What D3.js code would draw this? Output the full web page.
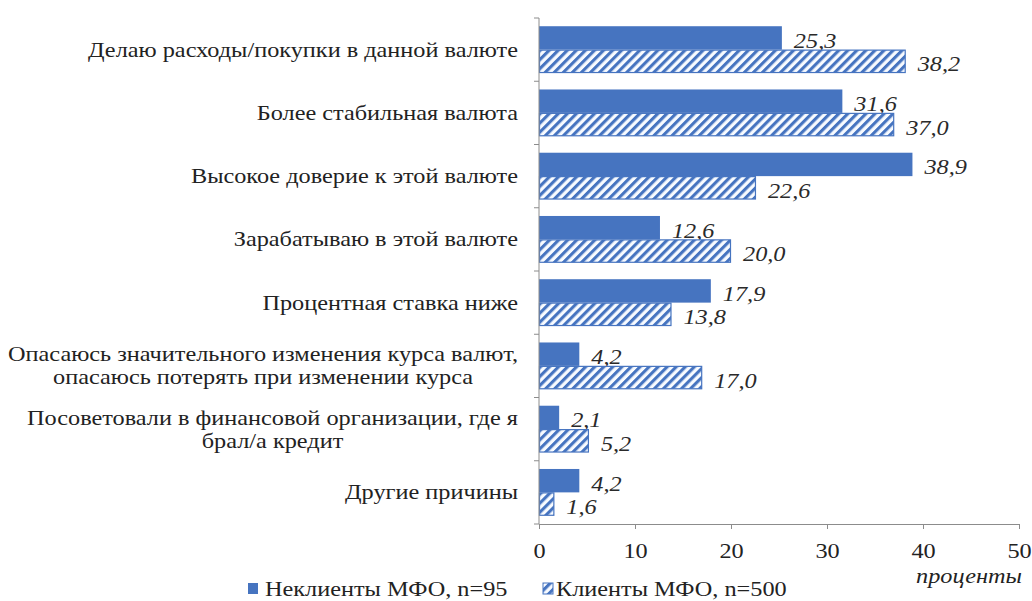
<!DOCTYPE html>
<html>
<head>
<meta charset="utf-8">
<script src="https://cdn.jsdelivr.net/npm/d3@7/dist/d3.min.js"></script>
<style>
  html, body { margin: 0; padding: 0; background: #fff; }
  svg { display: block; }
</style>
</head>
<body>
<svg id="chart" width="1032" height="601"></svg>
<script>
// Reasons for choosing the loan currency, % of respondents
const categories = [
  ["Делаю расходы/покупки в данной валюте"],
  ["Более стабильная валюта"],
  ["Высокое доверие к этой валюте"],
  ["Зарабатываю в этой валюте"],
  ["Процентная ставка ниже"],
  ["Опасаюсь значительного изменения курса валют,", "опасаюсь потерять при изменении курса"],
  ["Посоветовали в финансовой организации, где я", "брал/а кредит"],
  ["Другие причины"]
];
const nonClients = [25.3, 31.6, 38.9, 12.6, 17.9, 4.2, 2.1, 4.2];
const clients    = [38.2, 37.0, 22.6, 20.0, 13.8, 17.0, 5.2, 1.6];
const seriesNames = ["Неклиенты МФО, n=95", "Клиенты МФО, n=500"];
const xTicks = [0, 10, 20, 30, 40, 50];
const xAxisTitle = "проценты";

const FONT = "'Liberation Serif'";
const FS = 22;          // text size
const blue = "#4674c0";
const svg = d3.select("#chart");

const plot = { left: 539, right: 1019, top: 18, bottom: 524 };
const labelRight = 518;     // right edge of the category label column
const labelColumn = 430;    // width taken by the longest one-line label

const x = d3.scaleLinear().domain([0, 50]).range([plot.left, plot.right]);
const y = d3.scaleBand()
  .domain(d3.range(categories.length))
  .range([plot.top, plot.bottom])
  .paddingInner(0.26)
  .paddingOuter(0.13);
const sub = d3.scaleBand().domain([0, 1]).range([0, y.bandwidth()]);
const band = d3.scaleBand().domain(d3.range(categories.length)).range([plot.top, plot.bottom]);

// shared text styling
const txt = sel => sel.style("font-family", FONT).attr("font-size", FS);

// horizontal stretch so the label column keeps its width
const probe = svg.append("text").call(txt).text(categories[0][0]);
const HX = labelColumn / probe.node().getComputedTextLength();
probe.remove();
const stretch = sel => sel.each(function () {
  const w = this.getComputedTextLength();
  d3.select(this).attr("textLength", w * HX).attr("lengthAdjust", "spacingAndGlyphs");
});

// Diagonal hatch for the second series
const defs = svg.append("defs");
const P = 6.4;
const pat = defs.append("pattern")
  .attr("id", "hatch")
  .attr("patternUnits", "userSpaceOnUse")
  .attr("width", P).attr("height", P)
  .attr("patternTransform", "rotate(45)");
pat.append("rect").attr("width", P).attr("height", P).attr("fill", "#f8fbff");
pat.append("rect").attr("x", 0).attr("width", 3.1).attr("height", P).attr("fill", blue);

// Bars
const fmt = v => d3.format(".1f")(v).replace(".", ",");
const series = [
  { values: nonClients, fill: blue, stroke: "none" },
  { values: clients, fill: "url(#hatch)", stroke: blue }
];
series.forEach((s, si) => {
  const g = svg.append("g");
  g.selectAll("rect").data(s.values).join("rect")
    .attr("x", x(0) + (si ? 0.5 : 0))
    .attr("y", (d, i) => y(i) + sub(si) + (si ? 0.5 : 0))
    .attr("width", d => x(d) - x(0) - (si ? 1 : 0))
    .attr("height", sub.bandwidth() - (si ? 1 : 0))
    .attr("fill", s.fill)
    .attr("stroke", s.stroke)
    .attr("stroke-width", si ? 1.2 : 0);
  g.selectAll("text").data(s.values).join("text")
    .attr("x", d => x(d) + 12)
    .attr("y", (d, i) => y(i) + sub(si) + sub.bandwidth() / 2 + 10)
    .attr("font-style", "italic")
    .attr("fill", "#2a2a2a")
    .call(txt)
    .text(fmt)
    .call(stretch);
});

// Axes
const axisColor = "#8c8c8c";
const xAxis = svg.append("g")
  .attr("transform", `translate(0,${plot.bottom})`)
  .call(d3.axisBottom(x).tickValues(xTicks).tickSize(5).tickSizeOuter(0).tickPadding(13))
  .attr("font-family", null);
xAxis.select(".domain").attr("stroke", axisColor);
xAxis.selectAll(".tick line").attr("stroke", axisColor);
xAxis.selectAll(".tick text")
  .attr("fill", "#222")
  .call(txt)
  .call(stretch);

const yAxis = svg.append("g");
yAxis.append("line")
  .attr("x1", x(0)).attr("x2", x(0))
  .attr("y1", plot.top).attr("y2", plot.bottom)
  .attr("stroke", axisColor);
yAxis.selectAll("line.tk").data(d3.range(categories.length + 1)).join("line")
  .attr("class", "tk")
  .attr("x1", x(0) - 5).attr("x2", x(0))
  .attr("y1", i => plot.top + i * band.step())
  .attr("y2", i => plot.top + i * band.step())
  .attr("stroke", axisColor);

// Category labels: right-aligned block, multi-line labels centred within their block
categories.forEach((lines, i) => {
  const cy = y(i) + y.bandwidth() / 2;
  const lh = 23;
  const g = svg.append("g");
  const ts = lines.map((ln, k) => g.append("text")
    .attr("y", cy + (k - (lines.length - 1) / 2) * lh + 7)
    .attr("fill", "#222")
    .call(txt)
    .text(ln));
  const widths = ts.map(t => t.node().getComputedTextLength() * HX);
  const maxW = d3.max(widths);
  ts.forEach(t => t.attr("x", labelRight - maxW / 2).attr("text-anchor", "middle").call(stretch));
});

// Axis title
svg.append("text")
  .attr("x", 1022).attr("y", 583)
  .attr("text-anchor", "end")
  .attr("font-style", "italic")
  .attr("fill", "#222")
  .call(txt)
  .text(xAxisTitle)
  .call(stretch);

// Legend
const legend = [
  { x: 248, tx: 265, fill: blue, stroke: "none" },
  { x: 543, tx: 556, fill: "url(#hatch)", stroke: blue }
];
legend.forEach((l, i) => {
  svg.append("rect")
    .attr("x", l.x).attr("y", 583)
    .attr("width", 10).attr("height", 11)
    .attr("fill", l.fill).attr("stroke", l.stroke);
  svg.append("text")
    .attr("x", l.tx).attr("y", 596)
    .attr("fill", "#222")
    .call(txt)
    .text(seriesNames[i])
    .call(stretch);
});
</script>
</body>
</html>
